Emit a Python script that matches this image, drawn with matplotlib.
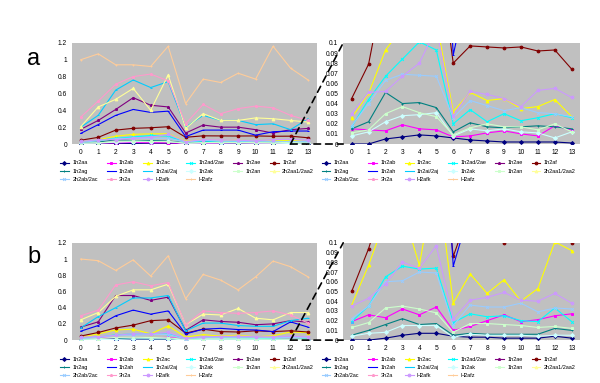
import matplotlib.pyplot as plt
from matplotlib.patches import ConnectionPatch
from matplotlib.ticker import FuncFormatter

plt.rcParams['font.family'] = ['Liberation Sans', 'DejaVu Sans']

# --- DATA ---
x = list(range(14))

names = ["1h2aa", "1h2ab", "1h2ac", "1h2ad/2ae", "1h2ae", "1h2af",
         "1h2ag", "1h2ah", "1h2ai/2aj", "1h2ak", "1h2an", "2h2aa1/2aa2",
         "2h2ab/2ac", "3h2a", "H2afk", "H2afz"]

# panel a
a_1h2aa = [0.000, 0.000, 0.005, 0.007, 0.009, 0.008, 0.006, 0.004, 0.003, 0.002, 0.002, 0.002, 0.002, 0.001]
a_1h2ab = [0.015, 0.014, 0.013, 0.019, 0.015, 0.014, 0.007, 0.008, 0.011, 0.013, 0.010, 0.008, 0.018, 0.014]
a_1h2ac = [0.026, 0.050, 0.093, 0.115, 0.120, 0.122, 0.032, 0.051, 0.043, 0.045, 0.035, 0.037, 0.044, 0.027]
a_1h2ad = [0.017, 0.044, 0.067, 0.084, 0.101, 0.093, 0.020, 0.034, 0.022, 0.030, 0.023, 0.026, 0.030, 0.026]
a_1h2ae = [0.174, 0.28, 0.41, 0.55, 0.46, 0.44, 0.13, 0.225, 0.20, 0.20, 0.17, 0.13, 0.17, 0.185]
a_1h2af = [0.045, 0.079, 0.165, 0.186, 0.193, 0.205, 0.080, 0.097, 0.096, 0.095, 0.096, 0.092, 0.093, 0.074]
a_1h2ag = [0.015, 0.022, 0.051, 0.040, 0.041, 0.036, 0.012, 0.021, 0.017, 0.016, 0.017, 0.018, 0.017, 0.015]
a_1h2ah = [0.126, 0.23, 0.34, 0.41, 0.375, 0.39, 0.088, 0.165, 0.165, 0.165, 0.105, 0.146, 0.154, 0.154]
a_1h2ai = [0.20, 0.34, 0.64, 0.76, 0.67, 0.74, 0.20, 0.34, 0.28, 0.28, 0.23, 0.24, 0.17, 0.30]
a_1h2ak = [0.008, 0.012, 0.022, 0.028, 0.029, 0.031, 0.008, 0.015, 0.013, 0.015, 0.012, 0.011, 0.006, 0.012]
a_1h2an = [0.011, 0.014, 0.030, 0.037, 0.031, 0.027, 0.009, 0.016, 0.020, 0.017, 0.017, 0.014, 0.020, 0.012]
a_2h2aa = [0.205, 0.44, 0.53, 0.66, 0.40, 0.82, 0.185, 0.36, 0.28, 0.28, 0.31, 0.30, 0.28, 0.26]
a_2h2ab = [0.018, 0.040, 0.063, 0.069, 0.068, 0.067, 0.026, 0.043, 0.038, 0.033, 0.036, 0.031, 0.030, 0.027]
a_3h2a = [0.32, 0.51, 0.71, 0.80, 0.83, 0.75, 0.24, 0.47, 0.36, 0.42, 0.45, 0.43, 0.34, 0.28]
a_h2afk = [0.030, 0.051, 0.052, 0.067, 0.080, 0.115, 0.028, 0.052, 0.049, 0.045, 0.037, 0.053, 0.055, 0.046]
a_h2afz = [1.0, 1.07, 0.94, 0.94, 0.92, 1.16, 0.48, 0.77, 0.73, 0.84, 0.77, 1.16, 0.90, 0.76]

# panel b
b_1h2aa = [0.000, 0.000, 0.002, 0.005, 0.007, 0.007, 0.004, 0.003, 0.003, 0.002, 0.002, 0.002, 0.004, 0.002]
b_1h2ab = [0.019, 0.026, 0.023, 0.032, 0.026, 0.034, 0.010, 0.014, 0.020, 0.026, 0.019, 0.021, 0.025, 0.027]
b_1h2ac = [0.036, 0.077, 0.125, 0.135, 0.077, 0.175, 0.038, 0.068, 0.048, 0.062, 0.040, 0.053, 0.101, 0.092]
b_1h2ad = [0.019, 0.035, 0.065, 0.076, 0.073, 0.074, 0.018, 0.027, 0.024, 0.025, 0.020, 0.019, 0.033, 0.019]
b_1h2ae = [0.16, 0.225, 0.55, 0.55, 0.49, 0.53, 0.12, 0.25, 0.23, 0.22, 0.19, 0.20, 0.24, 0.22]
b_1h2af = [0.050, 0.094, 0.15, 0.185, 0.24, 0.25, 0.086, 0.135, 0.105, 0.100, 0.115, 0.105, 0.115, 0.10]
b_1h2ag = [0.005, 0.010, 0.016, 0.022, 0.016, 0.017, 0.005, 0.007, 0.006, 0.006, 0.006, 0.006, 0.012, 0.010]
b_1h2ah = [0.11, 0.18, 0.30, 0.37, 0.32, 0.36, 0.076, 0.135, 0.145, 0.13, 0.125, 0.105, 0.225, 0.16]
b_1h2ai = [0.15, 0.29, 0.40, 0.52, 0.52, 0.55, 0.115, 0.21, 0.21, 0.18, 0.17, 0.17, 0.24, 0.27]
b_1h2ak = [0.004, 0.007, 0.008, 0.015, 0.015, 0.015, 0.003, 0.006, 0.005, 0.005, 0.005, 0.004, 0.005, 0.005]
b_1h2an = [0.013, 0.018, 0.033, 0.035, 0.032, 0.028, 0.008, 0.017, 0.017, 0.016, 0.015, 0.013, 0.014, 0.012]
b_2h2aa = [0.25, 0.34, 0.54, 0.62, 0.62, 0.69, 0.19, 0.32, 0.31, 0.39, 0.27, 0.25, 0.34, 0.34]
b_2h2ab = [0.022, 0.035, 0.060, 0.061, 0.070, 0.069, 0.015, 0.036, 0.034, 0.034, 0.038, 0.029, 0.033, 0.032]
b_3h2a = [0.30, 0.37, 0.68, 0.72, 0.67, 0.71, 0.19, 0.36, 0.34, 0.33, 0.34, 0.36, 0.31, 0.21]
b_h2afk = [0.035, 0.043, 0.058, 0.080, 0.074, 0.097, 0.022, 0.041, 0.044, 0.049, 0.041, 0.040, 0.048, 0.038]
b_h2afz = [1.0, 0.98, 0.86, 0.99, 0.79, 1.04, 0.51, 0.81, 0.74, 0.62, 0.78, 0.975, 0.905, 0.78]

panel_a = [a_1h2aa, a_1h2ab, a_1h2ac, a_1h2ad, a_1h2ae, a_1h2af, a_1h2ag, a_1h2ah,
           a_1h2ai, a_1h2ak, a_1h2an, a_2h2aa, a_2h2ab, a_3h2a, a_h2afk, a_h2afz]
panel_b = [b_1h2aa, b_1h2ab, b_1h2ac, b_1h2ad, b_1h2ae, b_1h2af, b_1h2ag, b_1h2ah,
           b_1h2ai, b_1h2ak, b_1h2an, b_2h2aa, b_2h2ab, b_3h2a, b_h2afk, b_h2afz]

# old excel palette + marker cycle
colors = ['#000080', '#FF00FF', '#FFFF00', '#00FFFF', '#800080', '#800000',
          '#008080', '#0000FF', '#00CCFF', '#CCFFFF', '#CCFFCC', '#FFFF99',
          '#99CCFF', '#FF99CC', '#CC99FF', '#FFCC99']
markers = ['D', 's', '^', 'x', '*', 'o', '+', '_', '_',
           'D', 's', '^', 'x', '*', 'o', '+']

# legend is filled column by column -> reorder to get excel's row layout
order = sorted(range(16), key=lambda i: (i % 6, i // 6))

fmt = FuncFormatter(lambda v, p: f"{round(v, 3):g}")

fig = plt.figure(figsize=(6, 3.83), dpi=100)


def draw_panel(series, bottom, top, letter, letter_y):
    axl = fig.add_axes([0.12, bottom, 0.408, top - bottom])
    axr = fig.add_axes([0.572, bottom, 0.395, top - bottom])
    setups = [(axl, 1.2, [0, 0.2, 0.4, 0.6, 0.8, 1.0, 1.2], 0.1),
              (axr, 0.1, [i / 100 for i in range(11)], 0.536)]
    for ax, ymax, yt, leg_x in setups:
        ax.set_facecolor('#C0C0C0')
        lines = []
        for i, ys in enumerate(series):
            ln, = ax.plot(x, ys, color=colors[i], marker=markers[i], ms=2.0,
                          mew=0.7, lw=0.8, label=names[i])
            lines.append(ln)
        ax.set_xlim(-0.5, 13.5)
        ax.set_ylim(0, ymax)
        ax.set_xticks(x)
        ax.set_yticks(yt)
        ax.yaxis.set_major_formatter(fmt)
        ax.tick_params(length=0, labelsize=4.8, pad=3.5)
        for s in ax.spines.values():
            s.set_visible(False)
        ax.legend([lines[i] for i in order], [names[i] for i in order],
                  loc='upper left', bbox_to_anchor=(leg_x, bottom - 0.043),
                  bbox_transform=fig.transFigure, ncol=6, frameon=False,
                  fontsize=4.0, handlelength=1.6, handletextpad=0.6,
                  columnspacing=1.6, labelspacing=0.6, borderaxespad=0,
                  borderpad=0)
    # zoom guides
    for yb in (1, 0):
        con = ConnectionPatch(xyA=(12, 0), coordsA=axl.transData,
                              xyB=(0, yb), coordsB=axr.transAxes,
                              color='black', lw=1.2, ls=(0, (4, 3)))
        fig.add_artist(con)
    fig.text(0.056, letter_y, letter, fontsize=17, ha='center', va='center')


draw_panel(panel_a, 0.624, 0.888, 'a', 0.845)
draw_panel(panel_b, 0.112, 0.366, 'b', 0.33)

fig.savefig('out.png', dpi=100)
